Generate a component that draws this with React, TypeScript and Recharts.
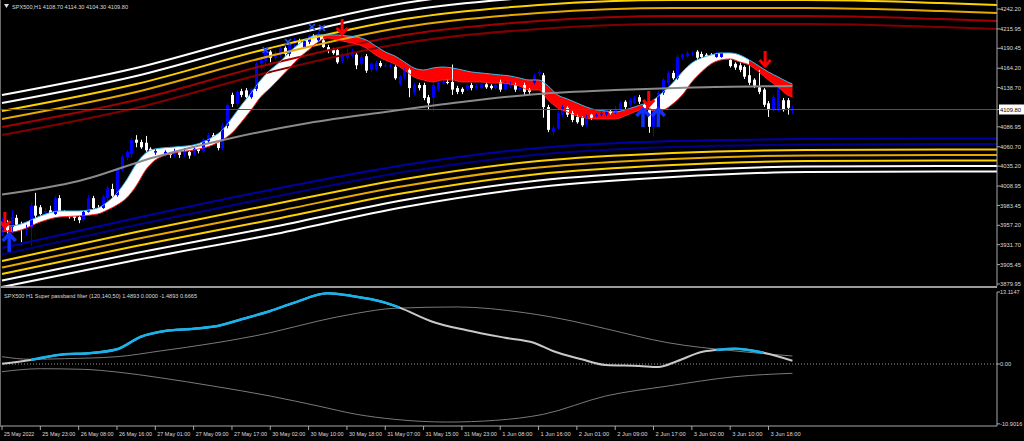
import React from 'react';
import { ComposedChart, Bar, Line, Area, Scatter, XAxis, YAxis, ReferenceLine } from 'recharts';

const FONT = "'Liberation Sans', Arial, sans-serif";
const TXT = '#dcdcdc';
const AXIS = '#a8a8a8';

// SPX500 H1 candles, 25 May 2022 .. 3 Jun 2022
const opens = [
  3948, 3959, 3955, 3967, 3956, 3951, 3954, 3983, 3981, 3974,
  3977, 3972, 3993, 3975, 3974, 3972, 3968, 3964, 3975, 3993,
  3980, 3980, 3993, 4005, 3997, 4030, 4047, 4051, 4070, 4067,
  4066, 4058, 4053, 4055, 4050, 4054, 4050, 4055, 4050, 4054,
  4050, 4060, 4055, 4068, 4076, 4074, 4059, 4088, 4129, 4117,
  4134, 4135, 4126, 4137, 4170, 4174, 4186, 4178, 4183, 4191,
  4183, 4196, 4200, 4192, 4199, 4207, 4201, 4201, 4192, 4188,
  4188, 4174, 4178, 4180, 4182, 4170, 4180, 4162, 4162, 4171,
  4167, 4166, 4166, 4143, 4153, 4162, 4132, 4142, 4142, 4126,
  4125, 4136, 4145, 4146, 4146, 4138, 4137, 4137, 4142, 4138,
  4138, 4143, 4141, 4138, 4146, 4136, 4141, 4142, 4137, 4142,
  4136, 4145, 4157, 4155, 4113, 4080, 4085, 4103, 4112, 4105,
  4100, 4099, 4089, 4103, 4101, 4103, 4103, 4108, 4105, 4109,
  4120, 4116, 4118, 4126, 4116, 4109, 4087, 4105, 4132, 4145,
  4158, 4151, 4178, 4180, 4183, 4186, 4183, 4182, 4182, 4179,
  4179, 4182, 4175, 4170, 4168, 4166, 4155, 4149, 4139, 4136,
  4118, 4109, 4109, 4122, 4122, 4108.7,
];
const highs = [
  3967, 3964, 3977, 3971, 3962, 3958, 3987, 4000, 3984, 3980,
  3983, 3996, 3997, 3977, 3976, 3975, 3972, 3977, 3997, 3996,
  3984, 3997, 4009, 4012, 4033, 4050, 4056, 4072, 4076, 4070,
  4075, 4060, 4059, 4058, 4056, 4056, 4058, 4058, 4059, 4056,
  4060, 4063, 4072, 4079, 4079, 4076, 4092, 4118, 4132, 4135,
  4137, 4138, 4139, 4172, 4178, 4188, 4188, 4187, 4193, 4193,
  4200, 4204, 4203, 4203, 4209, 4209, 4212, 4204, 4195, 4191,
  4191, 4184, 4190, 4190, 4184, 4182, 4183, 4172, 4174, 4174,
  4171, 4170, 4168, 4155, 4164, 4164, 4145, 4145, 4145, 4129,
  4146, 4147, 4149, 4149, 4169, 4141, 4139, 4143, 4145, 4143,
  4146, 4146, 4143, 4145, 4149, 4147, 4146, 4145, 4141, 4145,
  4138, 4157, 4162, 4158, 4116, 4088, 4108, 4116, 4114, 4108,
  4103, 4101, 4103, 4104, 4105, 4108, 4109, 4109, 4114, 4121,
  4122, 4125, 4128, 4129, 4118, 4112, 4109, 4134, 4151, 4161,
  4161, 4182, 4184, 4187, 4187, 4188, 4186, 4184, 4184, 4186,
  4186, 4183, 4178, 4172, 4171, 4168, 4168, 4151, 4162, 4138,
  4121, 4129, 4141, 4125, 4125, 4114.3,
];
const lows = [
  3943, 3946, 3947, 3955, 3935, 3943, 3930, 3966, 3970, 3972,
  3968, 3971, 3974, 3970, 3966, 3963, 3960, 3962, 3974, 3977,
  3976, 3979, 3989, 3993, 3995, 4028, 4043, 4047, 4060, 4058,
  4054, 4050, 4050, 4047, 4047, 4046, 4047, 4046, 4047, 4045,
  4049, 4052, 4052, 4066, 4070, 4056, 4056, 4085, 4113, 4114,
  4126, 4124, 4124, 4134, 4162, 4170, 4172, 4175, 4179, 4179,
  4180, 4192, 4188, 4191, 4196, 4199, 4199, 4191, 4184, 4182,
  4170, 4171, 4175, 4178, 4163, 4167, 4158, 4159, 4161, 4165,
  4166, 4164, 4149, 4141, 4150, 4126, 4129, 4135, 4122, 4109,
  4107, 4133, 4142, 4143, 4129, 4130, 4130, 4134, 4135, 4136,
  4137, 4137, 4136, 4136, 4133, 4133, 4138, 4133, 4134, 4129,
  4130, 4143, 4153, 4099, 4080, 4076, 4083, 4100, 4100, 4093,
  4091, 4087, 4087, 4096, 4100, 4101, 4101, 4103, 4104, 4108,
  4110, 4114, 4117, 4117, 4107, 4079, 4074, 4103, 4129, 4142,
  4149, 4149, 4175, 4178, 4180, 4175, 4176, 4178, 4176, 4178,
  4178, 4178, 4165, 4162, 4159, 4150, 4142, 4138, 4130, 4113,
  4100, 4107, 4107, 4107, 4103, 4104.3,
];
const closes = [
  3959, 3951, 3968, 3958, 3951, 3952, 3983, 3970, 3972, 3976,
  3971, 3993, 3975, 3974, 3968, 3967, 3964, 3975, 3993, 3980,
  3979, 3995, 4006, 3996, 4030, 4047, 4054, 4070, 4066, 4060,
  4056, 4054, 4055, 4050, 4054, 4050, 4055, 4050, 4055, 4049,
  4058, 4055, 4070, 4076, 4072, 4059, 4089, 4116, 4117, 4133,
  4129, 4126, 4137, 4170, 4175, 4186, 4178, 4184, 4191, 4183,
  4197, 4201, 4192, 4200, 4207, 4201, 4209, 4192, 4187, 4184,
  4172, 4182, 4184, 4186, 4168, 4179, 4161, 4170, 4171, 4167,
  4168, 4168, 4151, 4153, 4162, 4138, 4142, 4138, 4125, 4118,
  4142, 4145, 4146, 4145, 4136, 4133, 4133, 4142, 4138, 4141,
  4143, 4139, 4138, 4142, 4136, 4145, 4143, 4136, 4138, 4133,
  4133, 4154, 4159, 4113, 4083, 4085, 4105, 4113, 4103, 4096,
  4093, 4089, 4100, 4099, 4103, 4105, 4107, 4105, 4109, 4118,
  4113, 4122, 4125, 4120, 4109, 4087, 4107, 4132, 4149, 4158,
  4151, 4179, 4182, 4184, 4184, 4178, 4179, 4180, 4179, 4183,
  4184, 4180, 4167, 4165, 4162, 4153, 4145, 4141, 4133, 4116,
  4109, 4126, 4138, 4109, 4112, 4109.8,
];
const lastClose = 4109.8;

// envelope bands (projected past the last bar)
const bandIdx = [0, 28, 56, 84, 112, 140, 168, 196, 208];
const upWhite1 = [4128.9, 4164.5, 4211.9, 4250.1, 4268.6, 4275.1, 4275.1, 4271.2, 4268.6];
const upWhite2 = [4118.4, 4154.0, 4201.4, 4239.6, 4258.0, 4264.6, 4264.6, 4260.6, 4258.0];
const upGold1 = [4107.8, 4143.4, 4190.9, 4229.0, 4247.5, 4254.1, 4254.1, 4250.1, 4247.5];
const upGold2 = [4097.3, 4132.9, 4180.3, 4218.5, 4236.9, 4243.5, 4243.5, 4239.6, 4236.9];
const upRed1 = [4086.8, 4122.3, 4169.8, 4208.0, 4226.4, 4233.0, 4233.0, 4229.0, 4226.4];
const upRed2 = [4076.2, 4111.8, 4159.2, 4197.4, 4215.9, 4222.4, 4222.4, 4218.5, 4215.9];
const dnNavy1 = [3927.3, 3966.9, 4003.8, 4036.7, 4059.1, 4068.3, 4070.9, 4071.6, 4071.6];
const dnNavy2 = [3918.8, 3957.7, 3993.9, 4027.5, 4050.5, 4060.4, 4063.7, 4064.3, 4064.3];
const dnGold1 = [3910.2, 3948.4, 3984.0, 4018.2, 4041.9, 4052.5, 4056.5, 4057.1, 4057.1];
const dnGold2 = [3901.6, 3939.2, 3974.1, 4009.0, 4033.4, 4044.6, 4049.2, 4049.9, 4049.9];
const dnGold3 = [3893.1, 3930.0, 3964.2, 3999.8, 4024.8, 4036.7, 4041.9, 4042.6, 4042.6];
const dnWhite1 = [3884.5, 3920.7, 3954.3, 3990.6, 4016.3, 4028.8, 4034.7, 4035.4, 4035.4];
const dnWhite2 = [3875.9, 3911.5, 3944.5, 3981.4, 4007.7, 4020.9, 4027.5, 4028.1, 4028.1];

// slow gray average
const maIdx = [0, 16, 32, 48, 64, 80, 96, 112, 128, 144, 165];
const maVal = [3997.8, 4015.6, 4047.3, 4072.3, 4092.0, 4106.5, 4119.7, 4130.3, 4135.5, 4138.8, 4140.8];

// white / red ribbon
const ribIdx = [
  0, 2, 4, 8, 12, 16, 20, 22, 24, 26, 28, 30, 32, 36, 40, 44, 46, 48, 50, 52,
  54, 56, 58, 60, 62, 64, 66, 67, 68, 70, 72, 74, 76, 78, 80, 82, 84, 86, 88, 90,
  92, 94, 96, 98, 100, 102, 104, 106, 108, 110, 112, 114, 116, 118, 120, 122, 124, 126, 128, 130,
  132, 134, 135, 136, 138, 140, 142, 144, 146, 148, 150, 152, 154, 156, 158, 160, 162, 164, 165,
];
const ribHi = [
  3959.0, 3956.3, 3959.0, 3969.5, 3976.1, 3976.1, 3980.1, 3988.0, 3999.8, 4016.9,
  4038.0, 4052.5, 4057.8, 4060.4, 4063.1, 4073.6, 4082.8, 4098.6, 4115.8, 4131.6,
  4148.7, 4161.9, 4172.4, 4185.6, 4196.1, 4204.0, 4208.0, 4208.0, 4208.0, 4208.0,
  4206.7, 4205.3, 4201.4, 4193.5, 4185.6, 4180.3, 4172.4, 4164.5, 4161.9, 4164.5,
  4165.8, 4164.5, 4161.9, 4159.2, 4157.9, 4156.6, 4155.3, 4154.0, 4151.3, 4148.7,
  4148.7, 4140.8, 4128.9, 4123.7, 4118.4, 4113.1, 4109.2, 4107.9, 4106.5, 4109.2,
  4113.1, 4117.1, 4118.4, 4122.3, 4132.9, 4144.7, 4159.2, 4171.1, 4177.7, 4181.6,
  4184.3, 4184.3, 4181.6, 4175.0, 4167.1, 4159.2, 4152.7, 4146.1, 4143.4,
];
const ribLo = [
  3949.8, 3948.4, 3951.1, 3961.6, 3968.2, 3969.5, 3972.2, 3977.4, 3984.0, 3993.2,
  4009.0, 4030.1, 4043.3, 4052.5, 4056.5, 4063.1, 4069.6, 4078.9, 4093.4, 4109.2,
  4126.3, 4138.2, 4151.3, 4164.5, 4177.7, 4188.2, 4198.8, 4202.7, 4204.0, 4201.4,
  4198.8, 4196.1, 4190.9, 4181.6, 4175.0, 4169.8, 4161.9, 4152.7, 4148.7, 4146.1,
  4148.7, 4148.7, 4146.1, 4146.1, 4146.1, 4144.7, 4144.7, 4143.4, 4140.8, 4135.5,
  4135.5, 4122.3, 4111.8, 4106.5, 4101.3, 4098.6, 4097.3, 4097.3, 4097.3, 4101.3,
  4106.5, 4110.5, 4111.8, 4107.9, 4109.2, 4117.1, 4128.9, 4146.1, 4159.2, 4169.8,
  4175.0, 4176.4, 4172.4, 4168.5, 4159.2, 4148.7, 4139.5, 4128.9, 4126.3,
];
const ribbonParts = [
  { from: 0, to: 2, up: false },
  { from: 2, to: 67, up: true },
  { from: 67, to: 135, up: false },
  { from: 135, to: 156, up: true },
  { from: 156, to: 165, up: false },
];

// signal arrows and markers
const sellIdx = [0.6, 71, 135, 159.3];
const sellPrice = [3953.7, 4208.0, 4113.1, 4165.8];
const buyIdx = [1.5, 133.8, 137];
const buyPrice = [3947.1, 4111.8, 4111.8];
const crossIdx = [55, 59.7, 64.7, 66.8];
const crossPrice = [4188.2, 4198.8, 4218.5, 4217.2];

const priceTicks = [4242.2, 4215.95, 4190.45, 4164.2, 4138.7, 4109.8, 4086.95, 4060.7, 4035.2, 4008.95, 3983.45, 3957.2, 3931.7, 3905.45, 3879.95];

// Super passband filter (120,140,50)
const pbIdx = [0, 6, 13, 18, 24, 29, 34, 40, 45, 50, 56, 61, 68, 73, 80, 83, 90, 97, 105, 111, 115, 121, 126, 133, 137, 141, 146, 149, 153, 159, 165];
const pbVal = [0.05, 0.73, 1.77, 1.95, 2.68, 4.97, 6.01, 6.43, 6.92, 8.14, 9.66, 11.17, 12.88, 12.39, 11.17, 10.26, 7.65, 6.14, 4.79, 3.88, 2.37, 0.86, -0.18, -0.36, -0.55, 0.55, 2.19, 2.55, 2.79, 2.06, 0.6];
const envUpIdx = [0, 6, 13, 24, 33, 44, 56, 66, 74, 82, 95, 109, 119, 126, 139, 153, 165];
const envUpVal = [1.33, 0.86, 0.97, 1.33, 2.37, 3.77, 5.7, 7.83, 9.23, 10.15, 10.39, 9.35, 7.83, 6.43, 3.88, 2.37, 1.46];
const envDnIdx = [0, 8, 17, 24, 33, 44, 56, 66, 74, 82, 93, 103, 113, 126, 139, 153, 165];
const envDnVal = [-1.4, -0.86, -0.97, -1.46, -2.5, -4.01, -5.83, -7.65, -9.16, -10.08, -10.57, -10.26, -9.16, -5.83, -4.01, -2.31, -1.69];
const cyanRanges = [[6, 83], [149, 159]];
const oscTicks = [13.1147, 0, -10.9016];
const oscLabels = ['13.1147', '0.00', '-10.9016'];

const timeIdx = [0, 8, 16, 24, 32, 40, 48, 56, 64, 72, 80, 88, 96, 104, 112, 120, 128, 136, 144, 152, 160];
const timeLabels = [
  '25 May 2022', '25 May 23:00', '26 May 08:00', '26 May 16:00', '27 May 01:00', '27 May 09:00',
  '27 May 17:00', '30 May 02:00', '30 May 10:00', '30 May 18:00', '31 May 07:00', '31 May 15:00',
  '31 May 23:00', '1 Jun 08:00', '1 Jun 16:00', '2 Jun 01:00', '2 Jun 09:00', '2 Jun 17:00',
  '3 Jun 02:00', '3 Jun 10:00', '3 Jun 18:00',
];

const X_DOMAIN = [-0.42, 207.7];

const candleRows = opens.map((o, i) => ({ i, o, h: highs[i], l: lows[i], c: closes[i], range: [lows[i], highs[i]] }));
const bandRows = bandIdx.map((i, k) => ({
  i,
  uw1: upWhite1[k], uw2: upWhite2[k], ug1: upGold1[k], ug2: upGold2[k], ur1: upRed1[k], ur2: upRed2[k],
  dn1: dnNavy1[k], dn2: dnNavy2[k], dg1: dnGold1[k], dg2: dnGold2[k], dg3: dnGold3[k], dw1: dnWhite1[k], dw2: dnWhite2[k],
}));
const maRows = maIdx.map((i, k) => ({ i, v: maVal[k] }));
const ribbonRows = ribIdx.map((i, k) => ({ i, hi: ribHi[k], lo: ribLo[k] }));
const sellRows = sellIdx.map((i, k) => ({ i, p: sellPrice[k] }));
const buyRows = buyIdx.map((i, k) => ({ i, p: buyPrice[k] }));
const crossRows = crossIdx.map((i, k) => ({ i, p: crossPrice[k] }));
const pbRows = pbIdx.map((i, k) => ({ i, v: pbVal[k] }));
const envUpRows = envUpIdx.map((i, k) => ({ i, v: envUpVal[k] }));
const envDnRows = envDnIdx.map((i, k) => ({ i, v: envDnVal[k] }));

const bandLines = [
  { key: 'uw1', color: '#ffffff' },
  { key: 'uw2', color: '#ffffff' },
  { key: 'ug1', color: '#ffd000' },
  { key: 'ug2', color: '#e8a800' },
  { key: 'ur1', color: '#a00000' },
  { key: 'ur2', color: '#800000' },
  { key: 'dn1', color: '#0000a8' },
  { key: 'dn2', color: '#00008c' },
  { key: 'dg1', color: '#ffd000' },
  { key: 'dg2', color: '#e8a800' },
  { key: 'dg3', color: '#ffd000' },
  { key: 'dw1', color: '#ffffff' },
  { key: 'dw2', color: '#ffffff' },
];

// squeezed small text, like the terminal's narrow font
function Txt({ x, y, children, w, fill = TXT, size = 6.2, dy }: any) {
  return (
    <text
      x={x}
      y={y}
      dy={dy}
      textAnchor="start"
      fontSize={size}
      fontFamily={FONT}
      fill={fill}
      textLength={w}
      lengthAdjust="spacingAndGlyphs"
    >
      {children}
    </text>
  );
}

function Candle(props: any) {
  const { x, y, width, height, payload } = props;
  if (x == null || !payload) return null;
  const { o, h, l, c } = payload;
  const cx = Math.round(x + width / 2) + 0.5;
  const span = h - l || 1e-6;
  const py = (v: number) => y + ((h - v) / span) * height;
  const bull = c >= o;
  const color = bull ? '#0000ff' : '#ffffff';
  const top = py(Math.max(o, c));
  const bot = py(Math.min(o, c));
  return (
    <g>
      <line x1={cx} x2={cx} y1={y} y2={y + height} stroke={color} strokeWidth={1} />
      <rect x={cx - 1.5} y={top} width={3} height={Math.max(1, bot - top)} fill={color} />
    </g>
  );
}

function SellArrow(props: any) {
  const { cx, cy } = props;
  return (
    <g stroke="#ff0000" strokeWidth={3} fill="none">
      <line x1={cx} y1={cy - 16} x2={cx} y2={cy - 2} />
      <polyline points={`${cx - 5.5},${cy - 7} ${cx},${cy - 1} ${cx + 5.5},${cy - 7}`} />
    </g>
  );
}

function BuyArrow(props: any) {
  const { cx, cy } = props;
  return (
    <g stroke="#1030ff" strokeWidth={3.5} fill="none">
      <line x1={cx} y1={cy + 2} x2={cx} y2={cy + 19} />
      <polyline points={`${cx - 6.5},${cy + 8} ${cx},${cy + 1} ${cx + 6.5},${cy + 8}`} />
    </g>
  );
}

function CrossMark(props: any) {
  const { cx, cy } = props;
  return (
    <g stroke="#2050ff" strokeWidth={1.6}>
      <line x1={cx - 3} y1={cy - 3} x2={cx + 3} y2={cy + 3} />
      <line x1={cx - 3} y1={cy + 3} x2={cx + 3} y2={cy - 3} />
    </g>
  );
}

function PriceTick(props: any) {
  const { x, y, payload } = props;
  const v = payload.value;
  const isLast = Math.abs(v - lastClose) < 0.001;
  return (
    <g>
      {isLast && <rect x={x - 1} y={y - 5} width={25} height={10} fill="#ffffff" />}
      <Txt x={x} y={y} dy="0.35em" w={21} fill={isLast ? '#000000' : TXT}>
        {v.toFixed(2)}
      </Txt>
    </g>
  );
}

function OscTick(props: any) {
  const { x, y, payload } = props;
  const k = oscTicks.indexOf(payload.value);
  const label = k >= 0 ? oscLabels[k] : '';
  return (
    <Txt x={x} y={y} dy="0.35em" size={6} w={label.length * 2.8}>
      {label}
    </Txt>
  );
}

function TimeTick(props: any) {
  const { x, y, payload } = props;
  const k = timeIdx.indexOf(payload.value);
  const label = k >= 0 ? timeLabels[k] : '';
  return (
    <Txt x={x + 2} y={y + 6} w={label.length * 2.75}>
      {label}
    </Txt>
  );
}

export default function App() {
  return (
    <div style={{ position: 'relative', width: 1024, height: 441, background: '#000', overflow: 'hidden' }}>
      <style>{'body{margin:0;background:#000}'}</style>
      <div style={{ position: 'absolute', left: 0, top: 0 }}>
        <ComposedChart width={1024} height={287} data={candleRows} margin={{ top: 0, right: 0, bottom: 1, left: 0 }}>
          <XAxis dataKey="i" type="number" domain={X_DOMAIN} allowDataOverflow hide />
          <YAxis
            orientation="right"
            width={27}
            type="number"
            domain={[3877.25, 4254.06]}
            allowDataOverflow
            ticks={priceTicks}
            interval={0}
            tick={<PriceTick />}
            tickSize={3}
            tickMargin={0}
            tickLine={{ stroke: AXIS }}
            axisLine={{ stroke: AXIS }}
          />
          {bandLines.map((b) => (
            <Line key={b.key} data={bandRows} dataKey={b.key} type="monotone" stroke={b.color} strokeWidth={2} dot={false} isAnimationActive={false} />
          ))}
          {ribbonParts.map((p, k) => (
            <Area
              key={'rib' + k}
              data={ribbonRows.filter((r) => r.i >= p.from && r.i <= p.to)}
              dataKey={(r: any) => [r.lo, r.hi]}
              type="monotone"
              stroke="none"
              fill={p.up ? '#ffffff' : '#ff0000'}
              fillOpacity={1}
              isAnimationActive={false}
            />
          ))}
          <Line data={ribbonRows} dataKey="hi" type="monotone" stroke="#3fb6e8" strokeWidth={1} dot={false} isAnimationActive={false} />
          <Line data={ribbonRows} dataKey="lo" type="monotone" stroke="#ff2020" strokeWidth={1} dot={false} isAnimationActive={false} />
          <ReferenceLine y={lastClose} stroke="#4c5566" strokeWidth={1} />
          <Bar dataKey="range" shape={<Candle />} barSize={3} isAnimationActive={false} />
          <Line data={maRows} dataKey="v" type="monotone" stroke="#8a8a8a" strokeWidth={2} dot={false} isAnimationActive={false} />
          <Scatter data={crossRows} dataKey="p" shape={<CrossMark />} isAnimationActive={false} />
          <Scatter data={sellRows} dataKey="p" shape={<SellArrow />} isAnimationActive={false} />
          <Scatter data={buyRows} dataKey="p" shape={<BuyArrow />} isAnimationActive={false} />
        </ComposedChart>
      </div>

      <div style={{ position: 'absolute', left: 0, top: 288 }}>
        <ComposedChart width={1024} height={153} data={pbRows} margin={{ top: 4, right: 0, bottom: 0, left: 0 }}>
          <XAxis
            dataKey="i"
            type="number"
            domain={X_DOMAIN}
            allowDataOverflow
            ticks={timeIdx}
            interval={0}
            tick={<TimeTick />}
            height={15}
            tickSize={4}
            tickMargin={0}
            tickLine={{ stroke: AXIS }}
            axisLine={{ stroke: AXIS }}
          />
          <YAxis
            orientation="right"
            width={27}
            type="number"
            domain={[-11.29, 13.1147]}
            allowDataOverflow
            ticks={oscTicks}
            interval={0}
            tick={<OscTick />}
            tickSize={3}
            tickMargin={0}
            tickLine={{ stroke: AXIS }}
            axisLine={{ stroke: AXIS }}
          />
          <ReferenceLine y={0} stroke="#9a9a9a" strokeDasharray="1 2" />
          <Line data={envUpRows} dataKey="v" type="monotone" stroke="#7a7a7a" strokeWidth={1} dot={false} isAnimationActive={false} />
          <Line data={envDnRows} dataKey="v" type="monotone" stroke="#7a7a7a" strokeWidth={1} dot={false} isAnimationActive={false} />
          <Line dataKey="v" type="monotone" stroke="#c8c8c8" strokeWidth={2} dot={false} isAnimationActive={false} />
          {cyanRanges.map((r, k) => (
            <Line
              key={'cy' + k}
              data={pbRows.filter((p) => p.i >= r[0] && p.i <= r[1])}
              dataKey="v"
              type="monotone"
              stroke="#16b4ee"
              strokeWidth={2.5}
              dot={false}
              isAnimationActive={false}
            />
          ))}
        </ComposedChart>
      </div>

      {/* panel frame */}
      <div style={{ position: 'absolute', left: 0, top: 286, width: 997, height: 2, background: '#9a9a9a' }} />
      <div style={{ position: 'absolute', left: 0, top: 0, width: 1, height: 427, background: '#6a6a6a' }} />

      {/* headers */}
      <svg width={1024} height={441} style={{ position: 'absolute', left: 0, top: 0, pointerEvents: 'none' }}>
        <path d="M4,4 L9,4 L6.5,8 Z" fill={TXT} />
        <Txt x={12} y={9} w={116}>
          {'SPX500,H1  4108.70 4114.30 4104.30 4109.80'}
        </Txt>
        <Txt x={4} y={298} w={193}>
          {'SPX500 H1  Super passband filter (120,140,50) 1.4893 0.0000 -1.4893 0.6665'}
        </Txt>
      </svg>
    </div>
  );
}
